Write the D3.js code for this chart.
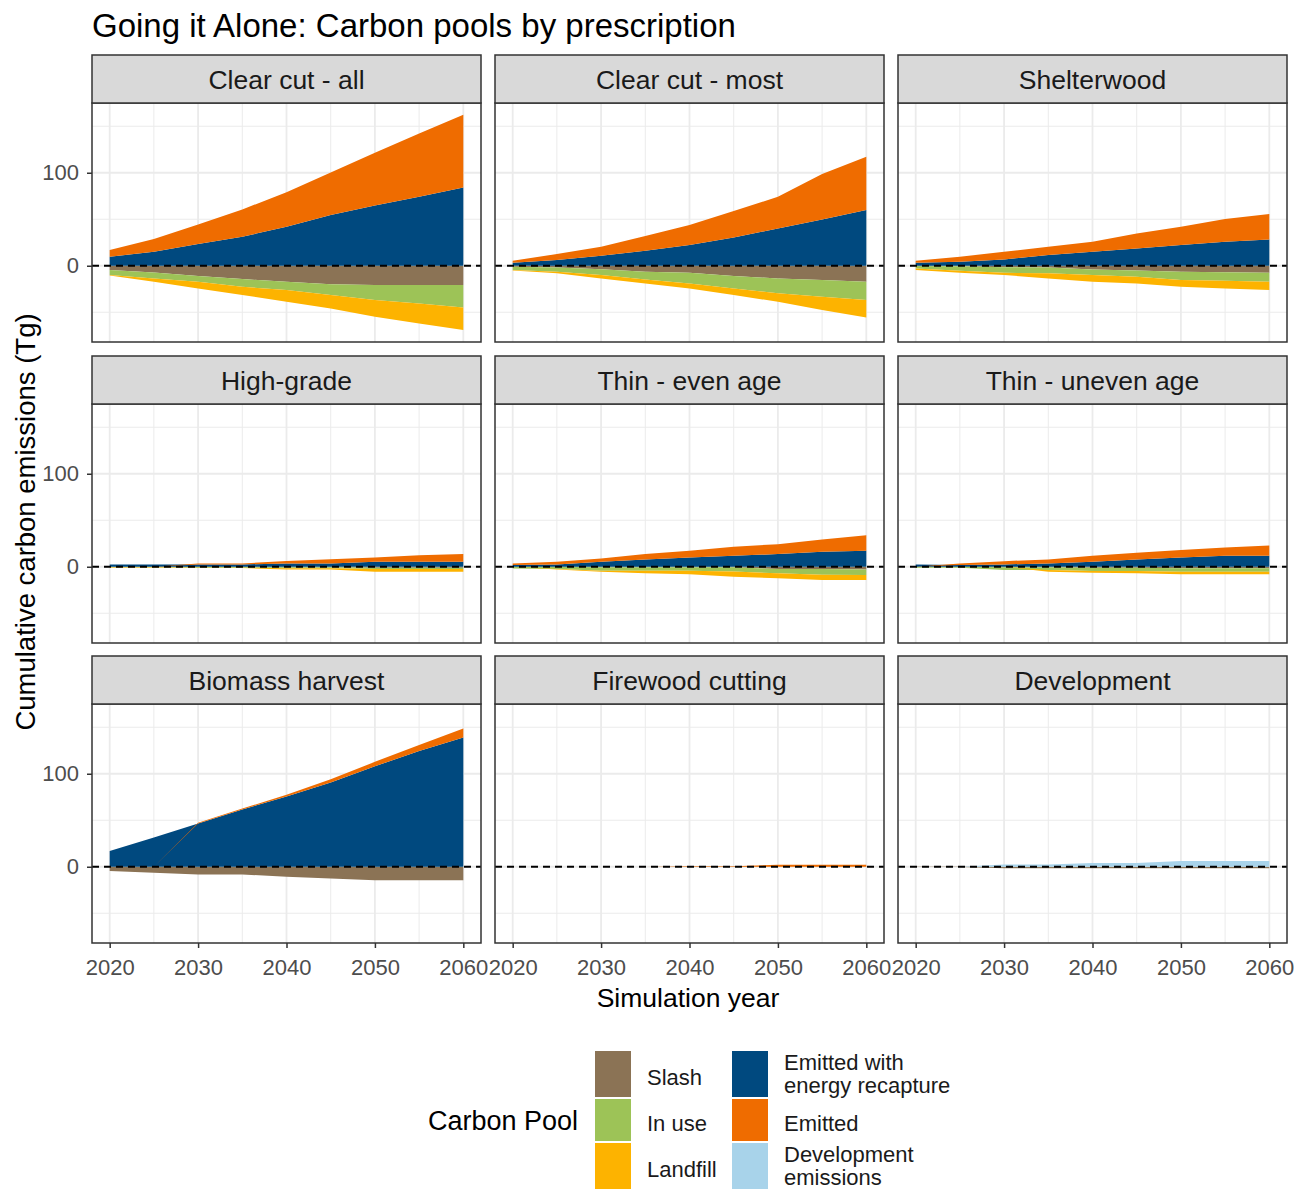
<!DOCTYPE html>
<html>
<head>
<meta charset="utf-8">
<script src="https://cdn.jsdelivr.net/npm/d3@7"></script>
<style>
  body { margin: 0; background: #fff; }
  svg { display: block; font-family: "Liberation Sans", Arial, sans-serif; }
</style>
</head>
<body>
<svg id="chart" width="1306" height="1189"></svg>
<script>
// simulation years (every 5 years)
const years = [2020, 2025, 2030, 2035, 2040, 2045, 2050, 2055, 2060]
// facet titles, row by row
const prescriptions = [
  'Clear cut - all', 'Clear cut - most', 'Shelterwood',
  'High-grade', 'Thin - even age', 'Thin - uneven age',
  'Biomass harvest', 'Firewood cutting', 'Development'
]
// carbon pools (legend order)
const pools = ['Slash', 'In use', 'Landfill', 'Emitted with energy recapture', 'Emitted', 'Development emissions']
// legend labels (line breaks like the original)
const poolLabels = [['Slash'], ['In use'], ['Landfill'], ['Emitted with', 'energy recapture'], ['Emitted'], ['Development', 'emissions']]
const poolColors = ['#8b7355', '#9dc357', '#fdb300', '#00497f', '#ef6c00', '#a8d3ea']

// cumulative carbon (Tg), one row per prescription
const slash = [
  [-4.7, -7.2, -11.1, -14.3, -17.2, -20.0, -20.8, -20.8, -20.8],
  [-1.0, -1.8, -3.9, -6.5, -7.5, -11.1, -13.6, -15.4, -17.2],
  [-0.3, -0.5, -1.5, -2.0, -4.0, -5.0, -6.5, -7.0, -7.5],
  [0, 0, -0.3, -0.3, -0.5, -0.5, -1.0, -1.0, -1.0],
  [0, 0, -0.5, -0.5, -0.5, -0.5, -2.5, -2.5, -3.0],
  [0, 0, -0.5, -0.5, -1.0, -1.0, -1.5, -1.5, -1.5],
  [-4.7, -6.5, -8.3, -8.3, -10.8, -12.6, -14.4, -14.4, -14.4],
  [0, 0, 0, 0, -0.4, -0.4, -0.4, -0.4, -0.4],
  [-0.3, -0.3, -1.5, -1.5, -1.5, -1.5, -1.5, -1.5, -1.5]
]
const inUse = [
  [-5.3, -6.4, -6.1, -8.3, -9.0, -11.5, -16.1, -19.7, -24.0],
  [-3.7, -4.7, -6.1, -8.2, -11.5, -13.3, -16.1, -17.9, -19.7],
  [-2.6, -4.9, -6.0, -6.2, -6.0, -6.8, -8.9, -9.1, -9.7],
  [-0.5, -0.5, -0.8, -0.8, -1.0, -1.0, -1.5, -1.5, -1.5],
  [-1.8, -2.5, -3.8, -3.8, -3.8, -4.5, -4.6, -6.0, -5.9],
  [-1.0, -1.0, -3.1, -3.1, -3.6, -3.6, -3.9, -3.9, -3.9],
  [0, 0, 0, 0, 0, 0, 0, 0, 0],
  [0, 0, 0, 0, 0, 0, 0, 0, 0],
  [0, 0, 0, 0, 0, 0, 0, 0, 0]
]
const landfill = [
  [-0.5, -3.6, -7.2, -8.9, -12.5, -14.4, -17.9, -21.5, -24.4],
  [-0.3, -1.7, -3.6, -4.3, -5.4, -7.1, -9.0, -14.4, -18.7],
  [-1.8, -2.1, -2.5, -5.4, -7.2, -7.2, -7.2, -8.3, -9.0],
  [-0.5, -0.5, -0.3, -0.3, -1.4, -1.4, -2.9, -2.9, -2.9],
  [0, -0.5, -1.1, -2.8, -3.9, -5.7, -5.4, -5.8, -5.4],
  [0, 0, 0, -1.8, -1.8, -2.3, -2.8, -2.8, -2.8],
  [0, 0, 0, 0, 0, 0, 0, 0, 0],
  [0, 0, 0, 0, 0, 0, 0, 0, 0],
  [0, 0, 0, 0, 0, 0, 0, 0, 0]
]
const energyRecapture = [
  [9.7, 15.0, 23.3, 31.2, 41.9, 54.5, 64.9, 74.2, 84.2],
  [3.2, 6.1, 10.8, 16.1, 22.2, 30.5, 40.1, 49.8, 59.9],
  [3.2, 4.3, 6.8, 11.5, 15.0, 18.6, 22.2, 25.8, 28.3],
  [2.5, 2.5, 2.5, 2.5, 3.6, 3.6, 5.4, 5.4, 5.4],
  [1.8, 2.5, 5.4, 7.9, 10.0, 11.8, 13.6, 16.1, 17.1],
  [2.5, 1.8, 2.5, 3.6, 5.4, 7.9, 10.0, 11.8, 11.8],
  [17.0, 31.5, 46.6, 61.5, 75.5, 90.5, 108.0, 124.5, 139.0],
  [0, 0, 0, 0, 0, 0, 0, 0, 0],
  [0, 0, 0, 0, 0, 0, 0, 0, 0]
]
const emitted = [
  [7.1, 13.7, 21.1, 29.4, 37.0, 45.9, 56.6, 68.1, 78.2],
  [2.2, 6.4, 9.6, 15.8, 21.5, 28.3, 34.1, 48.8, 57.3],
  [2.2, 5.4, 8.2, 8.9, 10.8, 16.2, 19.7, 24.4, 27.3],
  [0, 0, 1.0, 1.0, 2.5, 4.5, 4.6, 7.0, 8.2],
  [1.8, 2.9, 3.5, 5.7, 7.1, 9.6, 10.7, 13.2, 16.8],
  [0, 1.8, 3.5, 4.3, 6.4, 7.1, 7.9, 8.9, 11.1],
  [0, 0, 0.7, 1.1, 1.8, 3.6, 4.8, 6.5, 9.7],
  [0, 0, 0, 0, 0.5, 0.5, 2.2, 2.2, 2.2],
  [0, 0, 0, 0, 0, 0, 0, 0, 0]
]
const devEmissions = [
  [0, 0, 0, 0, 0, 0, 0, 0, 0],
  [0, 0, 0, 0, 0, 0, 0, 0, 0],
  [0, 0, 0, 0, 0, 0, 0, 0, 0],
  [0, 0, 0, 0, 0, 0, 0, 0, 0],
  [0, 0, 0, 0, 0, 0, 0, 0, 0],
  [0, 0, 0, 0, 0, 0, 0, 0, 0],
  [0, 0, 0, 0, 0, 0, 0, 0, 0],
  [0, 0, 0, 0, 0, 0, 0, 0, 0],
  [0, 0, 2.5, 2.5, 4.0, 4.0, 6.1, 6.1, 6.1]
]
const poolValues = [slash, inUse, landfill, energyRecapture, emitted, devEmissions]

// axis ticks
const xMajor = [2020, 2030, 2040, 2050, 2060]
const xMinor = [2025, 2035, 2045, 2055]
const yMajor = [0, 100]
const yMinor = [-50, 50, 150]

function makeChart() {
  const svg = d3.select('#chart')

  // facet grid geometry
  const colX = [92, 495, 898]
  const rowY = [55, 356, 656]
  const panelW = 389
  const stripH = 48
  const panelH = 239

  const x = d3.scaleLinear().domain([2018, 2062]).range([0, panelW])
  const y = d3.scaleLinear().domain([-82, 175]).range([panelH, 0])
  const color = d3.scaleOrdinal().domain(pools).range(poolColors)

  // positives stack up from zero, negatives stack down
  const stack = d3.stack().keys(pools).offset(d3.stackOffsetDiverging)
  const area = d3.area()
    .x(d => x(d.data.year))
    .y0(d => y(d[0]))
    .y1(d => y(d[1]))

  // white background
  svg.append('rect').attr('width', 1306).attr('height', 1189).attr('fill', '#fff')

  // title
  svg.append('text')
    .attr('x', 92)
    .attr('y', 37)
    .attr('font-size', 33)
    .attr('fill', '#000')
    .text('Going it Alone: Carbon pools by prescription')

  prescriptions.forEach((name, i) => {
    const col = i % 3
    const row = (i / 3) | 0
    const g = svg.append('g')
      .attr('transform', `translate(${colX[col]}, ${rowY[row] + stripH})`)

    // strip
    svg.append('rect')
      .attr('x', colX[col]).attr('y', rowY[row])
      .attr('width', panelW).attr('height', stripH)
      .attr('fill', '#d9d9d9').attr('stroke', '#333').attr('stroke-width', 1.5)
    svg.append('text')
      .attr('x', colX[col] + panelW / 2)
      .attr('y', rowY[row] + stripH / 2)
      .attr('dy', '0.36em')
      .attr('text-anchor', 'middle')
      .attr('font-size', 26.5)
      .attr('fill', '#1a1a1a')
      .text(name)

    // minor grid
    g.selectAll('.vminor').data(xMinor).enter().append('line')
      .attr('x1', d => x(d)).attr('x2', d => x(d))
      .attr('y1', 0).attr('y2', panelH)
      .attr('stroke', '#ebebeb').attr('stroke-width', 1)
    g.selectAll('.hminor').data(yMinor).enter().append('line')
      .attr('x1', 0).attr('x2', panelW)
      .attr('y1', d => y(d)).attr('y2', d => y(d))
      .attr('stroke', '#ebebeb').attr('stroke-width', 1)
    // major grid
    g.selectAll('.vmajor').data(xMajor).enter().append('line')
      .attr('x1', d => x(d)).attr('x2', d => x(d))
      .attr('y1', 0).attr('y2', panelH)
      .attr('stroke', '#ebebeb').attr('stroke-width', 1.8)
    g.selectAll('.hmajor').data(yMajor).enter().append('line')
      .attr('x1', 0).attr('x2', panelW)
      .attr('y1', d => y(d)).attr('y2', d => y(d))
      .attr('stroke', '#ebebeb').attr('stroke-width', 1.8)

    // stacked areas
    const table = years.map((yr, j) => {
      const rowData = { year: yr }
      pools.forEach((p, k) => { rowData[p] = poolValues[k][i][j] })
      return rowData
    })
    const series = stack(table).filter(s => s.some(d => d[0] !== d[1]))
    g.selectAll('.area').data(series).enter().append('path')
      .attr('d', area)
      .attr('fill', s => color(s.key))

    // zero line
    g.append('line')
      .attr('x1', 0).attr('x2', panelW)
      .attr('y1', y(0)).attr('y2', y(0))
      .attr('stroke', '#000').attr('stroke-width', 1.8)
      .attr('stroke-dasharray', '7,5')

    // panel border
    g.append('rect')
      .attr('width', panelW).attr('height', panelH)
      .attr('fill', 'none').attr('stroke', '#333').attr('stroke-width', 1.5)

    // x axis on bottom row
    if (row === 2) {
      const ax = g.append('g')
        .attr('transform', `translate(0, ${panelH})`)
        .call(d3.axisBottom(x).tickValues(xMajor).tickFormat(d3.format('d')).tickSize(5).tickPadding(11))
      styleAxis(ax)
    }
    // y axis on left column
    if (col === 0) {
      const ay = g.append('g')
        .call(d3.axisLeft(y).tickValues(yMajor).tickSize(5).tickPadding(8))
      styleAxis(ay)
    }
  })

  function styleAxis(sel) {
    sel.select('.domain').remove()
    sel.selectAll('line').attr('stroke', '#333').attr('stroke-width', 1.5)
    sel.selectAll('text')
      .attr('font-size', 22)
      .attr('fill', '#4d4d4d')
      .attr('font-family', '"Liberation Sans", Arial, sans-serif')
  }

  // axis titles
  svg.append('text')
    .attr('x', 688).attr('y', 998).attr('dy', '0.35em')
    .attr('text-anchor', 'middle')
    .attr('font-size', 26.5)
    .text('Simulation year')
  svg.append('text')
    .attr('transform', 'translate(25, 522) rotate(-90)')
    .attr('dy', '0.35em')
    .attr('text-anchor', 'middle')
    .attr('font-size', 27.5)
    .text('Cumulative carbon emissions (Tg)')

  // legend
  const legend = svg.append('g')
  legend.append('text')
    .attr('x', 428).attr('y', 1121).attr('dy', '0.35em')
    .attr('font-size', 27)
    .text('Carbon Pool')
  const keyRows = [[1051, 46], [1099, 42], [1143, 46]]
  const keyCols = [[595, 647], [732, 784]]
  pools.forEach((p, k) => {
    const c = (k / 3) | 0
    const r = k % 3
    const [ky, kh] = keyRows[r]
    legend.append('rect')
      .attr('x', keyCols[c][0]).attr('y', ky)
      .attr('width', 36).attr('height', kh)
      .attr('fill', color(p))
    const lines = poolLabels[k]
    const cy = ky + kh / 2 + (lines.length === 1 ? 3 : 0)
    lines.forEach((ln, li) => {
      legend.append('text')
        .attr('x', keyCols[c][1])
        .attr('y', cy + (li - (lines.length - 1) / 2) * 23)
        .attr('dy', '0.35em')
        .attr('font-size', 22)
        .attr('fill', '#1a1a1a')
        .text(ln)
    })
  })
}

window.onload = makeChart
</script>
</body>
</html>
